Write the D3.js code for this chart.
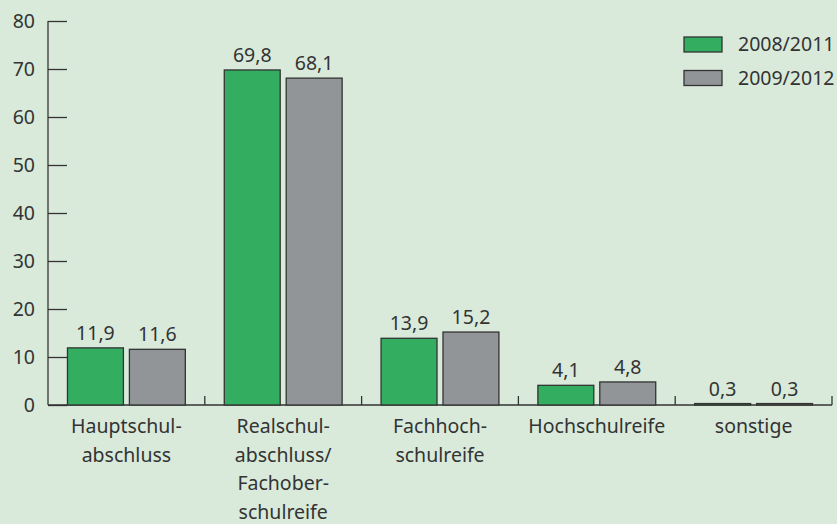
<!DOCTYPE html>
<html>
<head>
<meta charset="utf-8">
<script src="https://cdn.jsdelivr.net/npm/d3@7"></script>
<style>
  html, body { margin: 0; padding: 0; background: #d9eadb; }
  svg { display: block; }
</style>
</head>
<body>
<div id="chart"></div>
<script>
// DATA
const categories = [
  ["Hauptschul-", "abschluss"],
  ["Realschul-", "abschluss/", "Fachober-", "schulreife"],
  ["Fachhoch-", "schulreife"],
  ["Hochschulreife"],
  ["sonstige"]
];
const seriesNames = ["2008/2011", "2009/2012"];
const values2008 = [11.9, 69.8, 13.9, 4.1, 0.3];
const values2009 = [11.6, 68.1, 15.2, 4.8, 0.3];
const yTicks = [0, 10, 20, 30, 40, 50, 60, 70, 80];
const colors = ["#33ad60", "#929598"];

// SIZE
const width = 837;
const height = 524;
const plotLeft = 48;
const plotRight = 832;
const plotTop = 21;
const plotBottom = 405;
const textColor = "#333";
const fontFamily = "'Noto Sans', sans-serif";
const fontSize = "19.5px";

const fmt = v => String(v.toFixed(1)).replace(".", ",");

const svg = d3.select("#chart")
  .append("svg")
  .attr("width", width)
  .attr("height", height)
  .style("font-family", fontFamily);

// SCALES
const catKeys = categories.map((c, i) => i);
const xScale = d3.scaleBand().domain(catKeys).range([plotLeft, plotRight]).padding(0);
const xInner = d3.scaleBand()
  .domain([0, 1])
  .range([0, xScale.bandwidth()])
  .paddingInner(0.0968)
  .paddingOuter(0.3145);
const yScale = d3.scaleLinear().domain([0, 80]).range([plotBottom, plotTop]);

// Y AXIS (ticks point inward)
const yAxis = d3.axisRight(yScale).tickValues(yTicks).tickSize(19).tickFormat("");
const gy = svg.append("g").attr("transform", `translate(${plotLeft},0)`).call(yAxis);
gy.select(".domain").remove();
gy.selectAll(".tick line").attr("stroke", textColor).attr("stroke-width", 1.3);
svg.append("line")
  .attr("x1", plotLeft).attr("x2", plotLeft)
  .attr("y1", plotTop).attr("y2", plotBottom)
  .attr("stroke", textColor).attr("stroke-width", 1.3);

svg.append("g")
  .selectAll("text")
  .data(yTicks)
  .enter()
  .append("text")
  .attr("x", 35)
  .attr("y", d => yScale(d))
  .attr("dy", "0.35em")
  .attr("text-anchor", "end")
  .attr("fill", textColor)
  .style("font-size", fontSize)
  .text(d => d);

// X AXIS (separator ticks point upward)
svg.append("line")
  .attr("x1", plotLeft).attr("x2", plotRight)
  .attr("y1", plotBottom).attr("y2", plotBottom)
  .attr("stroke", textColor).attr("stroke-width", 1.3);
svg.append("g")
  .selectAll("line")
  .data(catKeys)
  .enter()
  .append("line")
  .attr("x1", d => xScale(d) + xScale.bandwidth())
  .attr("x2", d => xScale(d) + xScale.bandwidth())
  .attr("y1", plotBottom)
  .attr("y2", plotBottom - 9)
  .attr("stroke", textColor)
  .attr("stroke-width", 1.3);

// BARS
const groups = svg.append("g")
  .selectAll("g")
  .data(catKeys)
  .enter()
  .append("g")
  .attr("transform", d => `translate(${xScale(d)},0)`);

const barData = i => [values2008[i], values2009[i]];

groups.selectAll("rect")
  .data(i => barData(i))
  .enter()
  .append("rect")
  .attr("x", (d, j) => xInner(j))
  .attr("y", d => yScale(d))
  .attr("width", xInner.bandwidth())
  .attr("height", d => yScale(0) - yScale(d))
  .attr("fill", (d, j) => colors[j])
  .attr("stroke", textColor)
  .attr("stroke-width", 1.3);

groups.selectAll("text.value")
  .data(i => barData(i))
  .enter()
  .append("text")
  .attr("class", "value")
  .attr("x", (d, j) => xInner(j) + xInner.bandwidth() / 2)
  .attr("y", d => yScale(d) - 8)
  .attr("text-anchor", "middle")
  .attr("fill", textColor)
  .style("font-size", fontSize)
  .text(d => fmt(d));

// CATEGORY LABELS
groups.append("text")
  .attr("text-anchor", "middle")
  .attr("fill", textColor)
  .style("font-size", fontSize)
  .selectAll("tspan")
  .data(i => categories[i])
  .enter()
  .append("tspan")
  .attr("x", xScale.bandwidth() / 2)
  .attr("y", (d, k) => 433 + k * 28.5)
  .text(d => d);

// LEGEND
const legend = svg.append("g")
  .selectAll("g")
  .data(seriesNames)
  .enter()
  .append("g")
  .attr("transform", (d, i) => `translate(684,${37 + i * 33.5})`);
legend.append("rect")
  .attr("width", 38)
  .attr("height", 15)
  .attr("fill", (d, i) => colors[i])
  .attr("stroke", textColor)
  .attr("stroke-width", 1.3);
legend.append("text")
  .attr("x", 54)
  .attr("y", 7.5)
  .attr("dy", "0.35em")
  .attr("fill", textColor)
  .style("font-size", fontSize)
  .text(d => d);
</script>
</body>
</html>
